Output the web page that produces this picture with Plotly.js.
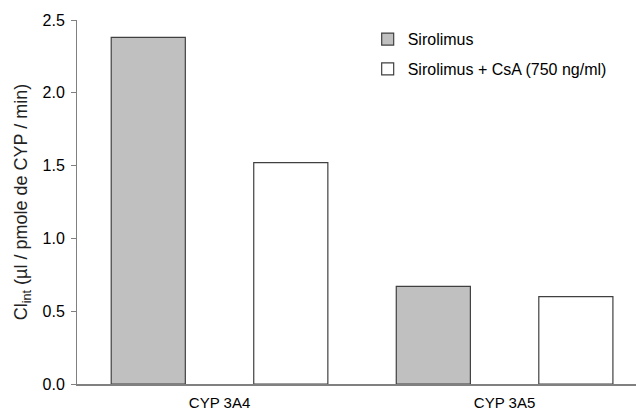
<!DOCTYPE html>
<html>
<head>
<meta charset="utf-8">
<script src="https://cdn.plot.ly/plotly-3.0.1.min.js"></script>
<style>html,body{margin:0;padding:0;background:#fff}#chart{width:636px;height:414px}</style>
</head>
<body>
<div id="chart"></div>
<script>
var categories = ["CYP 3A4", "CYP 3A5"];
var seriesNames = ["Sirolimus", "Sirolimus + CsA (750 ng/ml)"];
var sirolimus = [2.38, 0.67];
var sirolimusCsA = [1.52, 0.60];
var yTicks = [0, 0.5, 1.0, 1.5, 2.0, 2.5];
var yTickLabels = ["0.0", "0.5", "1.0", "1.5", "2.0", "2.5"];

var fam = "Liberation Sans, Arial, sans-serif";
var font = {family: fam, size: 15, color: "#000"};

var traces = [
  {type: "bar", name: seriesNames[0], x: categories, y: sirolimus, legendgroup: "a",
   marker: {color: "#c0c0c0", line: {color: "#404040", width: 1.2}}},
  {type: "bar", name: seriesNames[1], x: categories, y: sirolimusCsA, legendgroup: "b",
   marker: {color: "#ffffff", line: {color: "#404040", width: 1.2}}}
];

var layout = {
  width: 636, height: 414,
  margin: {l: 77, r: 0, t: 20, b: 30, pad: 0},
  paper_bgcolor: "#fff", plot_bgcolor: "#fff",
  font: font,
  barmode: "group", bargap: 0, bargroupgap: 0.48,
  showlegend: true,
  legend: {x: 0.52, xanchor: "left", y: 0.994, yanchor: "top", font: {family: fam, size: 16, color: "#000"},
           bgcolor: "rgba(0,0,0,0)", tracegroupgap: 6, traceorder: "grouped"},
  xaxis: {type: "category", range: [-0.5, 1.461], showline: true, linecolor: "#808080", linewidth: 2,
          ticks: "", showgrid: false, zeroline: false, tickfont: font, ticklabelstandoff: 4, fixedrange: true},
  yaxis: {range: [0, 2.5], tickvals: yTicks, ticktext: yTickLabels, showline: true, linecolor: "#808080",
          linewidth: 1, ticks: "outside", ticklen: 5, tickcolor: "#808080", showgrid: false, zeroline: false,
          tickfont: {family: fam, size: 16, color: "#000"}, ticklabelstandoff: 3,
          title: {text: "Cl<sub>int</sub> (µl / pmole de CYP / min)", font: {family: fam, size: 18, color: "#222"}, standoff: 10}}
};

Plotly.newPlot("chart", traces, layout, {displayModeBar: false, staticPlot: true});
</script>
</body>
</html>
